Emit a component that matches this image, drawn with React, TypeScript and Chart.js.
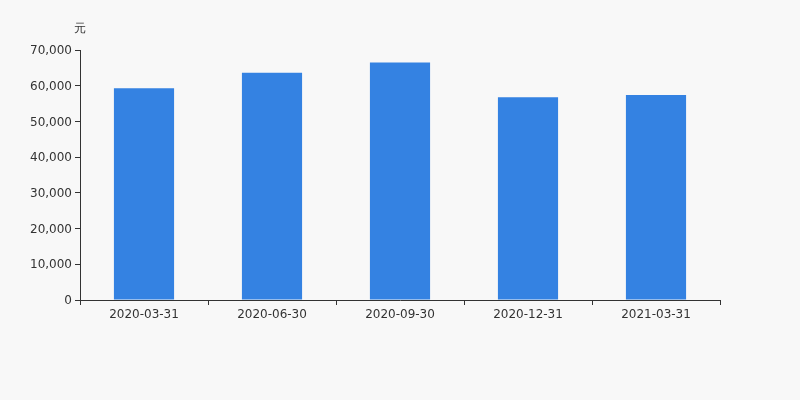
import React, { useEffect, useRef } from "react";
import { Chart, registerables } from "chart.js";

Chart.register(...registerables);

const categories = ["2020-03-31", "2020-06-30", "2020-09-30", "2020-12-31", "2021-03-31"];
const values = [59300, 63600, 66500, 56800, 57400];
const unitLabel = "元";

const FONT = "'DejaVu Sans', sans-serif";

export default function App() {
  const ref = useRef<HTMLCanvasElement | null>(null);
  useEffect(() => {
    if (!ref.current) return;
    const unitPlugin = {
      id: "unitLabel",
      beforeDraw(chart: any) {
        const ctx = chart.ctx;
        ctx.save();
        ctx.fillStyle = "#f8f8f8";
        ctx.fillRect(0, 0, chart.width, chart.height);
        ctx.restore();
      },
      afterDraw(chart: any) {
        const ctx = chart.ctx;
        ctx.save();
        ctx.fillStyle = "#333";
        ctx.font = `12px ${FONT}`;
        ctx.textAlign = "center";
        ctx.textBaseline = "middle";
        ctx.fillText(unitLabel, chart.chartArea.left, 29);
        ctx.restore();
      },
    };
    const chart = new Chart(ref.current, {
      type: "bar",
      data: {
        labels: categories,
        datasets: [
          {
            data: values,
            backgroundColor: "#3482e2",
            barPercentage: 0.47,
            categoryPercentage: 1,
          },
        ],
      },
      options: {
        responsive: false,
        animation: false,
        layout: { padding: { top: 50, right: 80, bottom: 70, left: 0 } },
        plugins: { legend: { display: false }, tooltip: { enabled: false } },
        scales: {
          x: {
            offset: true,
            grid: { display: true, offset: true, drawOnChartArea: false, tickLength: 5, color: "#333" },
            border: { display: true, color: "#333" },
            ticks: { color: "#333", font: { family: FONT, size: 12 }, padding: 3, maxRotation: 0 },
            afterFit: (s: any) => { s.height = 30; },
          },
          y: {
            min: 0,
            max: 70000,
            ticks: {
              stepSize: 10000,
              color: "#333",
              font: { family: FONT, size: 12 },
              padding: 3,
              labelOffset: 1,
              callback: (v: any) => Number(v).toLocaleString("en-US"),
            },
            grid: { display: true, drawOnChartArea: false, tickLength: 5, color: "#333" },
            border: { display: true, color: "#333" },
            afterFit: (s: any) => { s.width = 80; },
          },
        },
      },
      plugins: [unitPlugin],
    });
    return () => chart.destroy();
  }, []);
  return (
    <div style={{ position: "fixed", left: 0, top: 0, width: 800, height: 400, background: "#f8f8f8" }}>
      <canvas ref={ref} width={800} height={400} style={{ width: 800, height: 400, display: "block" }} />
    </div>
  );
}
